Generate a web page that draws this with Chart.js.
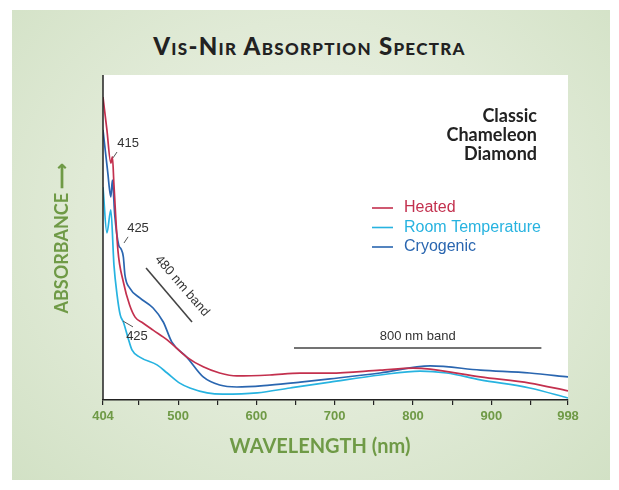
<!DOCTYPE html>
<html lang="en">
<head>
<meta charset="UTF-8">
<title>VIS-NIR Absorption Spectra</title>
<script src="https://cdn.jsdelivr.net/npm/chart.js"></script>
<style>
  html, body { margin: 0; padding: 0; background: #fff; }
  #wrap { position: relative; width: 619px; height: 490px; overflow: hidden; }
  #panel { position: absolute; left: 12px; top: 10px; width: 598px; height: 470px;
    background: radial-gradient(ellipse at 50% 45%, #eef3e8 0%, #e0ead6 55%, #d2e1c5 100%); }
  #title { position: absolute; left: 0; width: 619px; top: 31px; text-align: center;
    font: 900 24px Lato, sans-serif; font-variant: small-caps; color: #222; letter-spacing: 1.3px; }
  canvas { position: absolute; left: 0; top: 0; }
</style>
</head>
<body>
<div id="wrap">
  <div id="panel"></div>
  <div id="title">Vis-Nir Absorption Spectra</div>
  <canvas id="chart" width="619" height="490"></canvas>
</div>

<script>
  // wavelength (nm) / absorbance (relative, 0-100)
  const heatedNm  = [404, 409, 414, 416, 418, 423, 430, 438, 445, 455, 468, 486, 511, 532, 553, 575, 617, 656, 694, 758, 800, 822, 886, 949, 998];
  const heatedAbs = [93.2, 83.1, 72.9, 74.8, 66.2, 46.2, 36.3, 29.2, 25.5, 23.7, 21.5, 18.5, 13.2, 10.2, 8.3, 7.4, 7.7, 8.3, 8.3, 9.2, 9.8, 9.5, 7.1, 5.2, 2.8];

  const roomNm  = [404, 409, 414, 418, 422, 426, 430, 436, 441, 451, 473, 486, 502, 515, 537, 557, 601, 643, 694, 758, 809, 843, 886, 949, 998];
  const roomAbs = [65.5, 51.4, 58.5, 41.5, 32.3, 26.2, 24.0, 19.1, 15.4, 13.2, 10.8, 8.3, 5.2, 3.7, 2.2, 1.8, 2.2, 3.7, 5.5, 7.7, 8.9, 8.3, 6.2, 3.7, 0.6];

  const cryoNm  = [404, 410, 414, 416, 419, 424, 427, 430, 432, 438, 451, 468, 481, 492, 511, 532, 553, 575, 617, 656, 694, 758, 822, 886, 949, 998];
  const cryoAbs = [83.1, 70.2, 62.5, 67.7, 56.9, 47.7, 46.5, 44.0, 38.5, 34.5, 31.4, 28.3, 24.0, 17.8, 13.2, 7.1, 4.6, 4.0, 4.6, 5.5, 6.5, 8.3, 10.5, 9.2, 8.3, 7.1];

  const seriesNames = ['Heated', 'Room Temperature', 'Cryogenic'];
  const xTicks  = [404, 450, 500, 550, 600, 650, 700, 750, 800, 850, 900, 950, 998];
  const xLabels = [404, 500, 600, 700, 800, 900, 998];

  const colors = ['#c3304e', '#27b3e0', '#2a66b0'];
  const green = '#6f9a46';

  const pts = (xs, ys) => xs.map((v, i) => ({ x: v, y: ys[i] }));

  // annotation marks, in data coordinates
  const bands = [
    { x0: 459, y0: 40.6, x1: 517.7, y1: 24.0 },
    { x0: 648, y0: 16.0, x1: 964, y1: 16.0 }
  ];
  const notes = [
    { text: '415', x: 436, y: 79.0, lead: [416.8, 74.5, 421.9, 76.3] },
    { text: '425', x: 448.7, y: 52.9, lead: [430.8, 48.3, 436, 50.2] },
    { text: '425', x: 447.4, y: 19.7, lead: [429.5, 24.3, 442.3, 22.5] },
    { text: '800 nm band', x: 806, y: 19.7 },
    { text: '480 nm band', x: 505, y: 35.1, rot: 49 }
  ];

  const decor = {
    id: 'decor',
    beforeDraw(chart) {
      const { ctx, chartArea: a } = chart;
      ctx.save();
      ctx.fillStyle = '#fff';
      ctx.fillRect(a.left, a.top, a.right - a.left, a.bottom - a.top);
      ctx.restore();
    },
    afterDraw(chart) {
      const { ctx, chartArea: a, scales: { x, y } } = chart;
      const px = v => x.getPixelForValue(v);
      const py = v => y.getPixelForValue(v);
      ctx.save();

      // left axis line
      ctx.strokeStyle = '#222';
      ctx.lineWidth = 1.5;
      ctx.beginPath();
      ctx.moveTo(a.left, a.top);
      ctx.lineTo(a.left, a.bottom);
      ctx.stroke();

      // band markers
      ctx.strokeStyle = '#444';
      ctx.lineWidth = 1.6;
      bands.forEach(b => {
        ctx.beginPath();
        ctx.moveTo(px(b.x0), py(b.y0));
        ctx.lineTo(px(b.x1), py(b.y1));
        ctx.stroke();
      });

      // notes
      ctx.font = '13px "Liberation Sans", Arial, sans-serif';
      ctx.fillStyle = '#333';
      ctx.textAlign = 'center';
      ctx.textBaseline = 'middle';
      notes.forEach(n => {
        if (n.lead) {
          ctx.strokeStyle = '#555';
          ctx.lineWidth = 1;
          ctx.beginPath();
          ctx.moveTo(px(n.lead[0]), py(n.lead[1]));
          ctx.lineTo(px(n.lead[2]), py(n.lead[3]));
          ctx.stroke();
        }
        ctx.save();
        ctx.translate(px(n.x), py(n.y));
        if (n.rot) ctx.rotate(n.rot * Math.PI / 180);
        ctx.fillText(n.text, 0, 0);
        ctx.restore();
      });

      // sample name
      ctx.font = 'bold 18px Lato, sans-serif';
      ctx.fillStyle = '#222';
      ctx.textAlign = 'right';
      ['Classic', 'Chameleon', 'Diamond'].forEach((t, i) => ctx.fillText(t, 537, 116 + i * 19));

      // legend
      ctx.font = '16px "Liberation Sans", Arial, sans-serif';
      ctx.textAlign = 'left';
      chart.data.datasets.forEach((ds, i) => {
        const ly = 208 + i * 19.5;
        ctx.strokeStyle = ds.borderColor;
        ctx.lineWidth = 1.6;
        ctx.beginPath();
        ctx.moveTo(372, ly);
        ctx.lineTo(393, ly);
        ctx.stroke();
        ctx.fillStyle = ds.borderColor;
        ctx.fillText(ds.label, 404, ly);
      });

      // axis titles
      ctx.fillStyle = green;
      ctx.font = 'bold 20px Lato, sans-serif';
      ctx.textAlign = 'center';
      ctx.fillText('WAVELENGTH (nm)', 320, 447);
      ctx.font = 'bold 18px Lato, sans-serif';
      ctx.translate(62, 238);
      ctx.rotate(-Math.PI / 2);
      ctx.fillText('ABSORBANCE \u27F6', 0, 0);

      ctx.restore();
    }
  };

  new Chart(document.getElementById('chart'), {
    type: 'line',
    data: {
      datasets: [
        { label: seriesNames[0], data: pts(heatedNm, heatedAbs), borderColor: colors[0] },
        { label: seriesNames[1], data: pts(roomNm, roomAbs), borderColor: colors[1] },
        { label: seriesNames[2], data: pts(cryoNm, cryoAbs), borderColor: colors[2] }
      ]
    },
    options: {
      responsive: false,
      animation: false,
      devicePixelRatio: 1,
      layout: { padding: { left: 103, right: 51, top: 75, bottom: 60 } },
      elements: {
        line: { borderWidth: 1.7, cubicInterpolationMode: 'monotone', fill: false },
        point: { radius: 0 }
      },
      plugins: { legend: { display: false }, tooltip: { enabled: false } },
      scales: {
        x: {
          type: 'linear', min: 404, max: 998,
          afterBuildTicks: s => { s.ticks = xTicks.map(v => ({ value: v })); },
          afterFit: s => { s.height = 30; },
          ticks: {
            callback: v => xLabels.includes(v) ? String(v) : '',
            color: green, maxRotation: 0, autoSkip: false, padding: 4,
            font: { family: '"Liberation Sans Narrow", "Liberation Sans", Arial', size: 13, weight: 'bold' }
          },
          grid: { drawOnChartArea: false, drawTicks: true, tickLength: 5, color: '#222', lineWidth: 1.2 },
          border: { display: true, color: '#222', width: 1.5 }
        },
        y: { display: false, min: 0, max: 100 }
      }
    },
    plugins: [decor]
  });
</script>
</body>
</html>
